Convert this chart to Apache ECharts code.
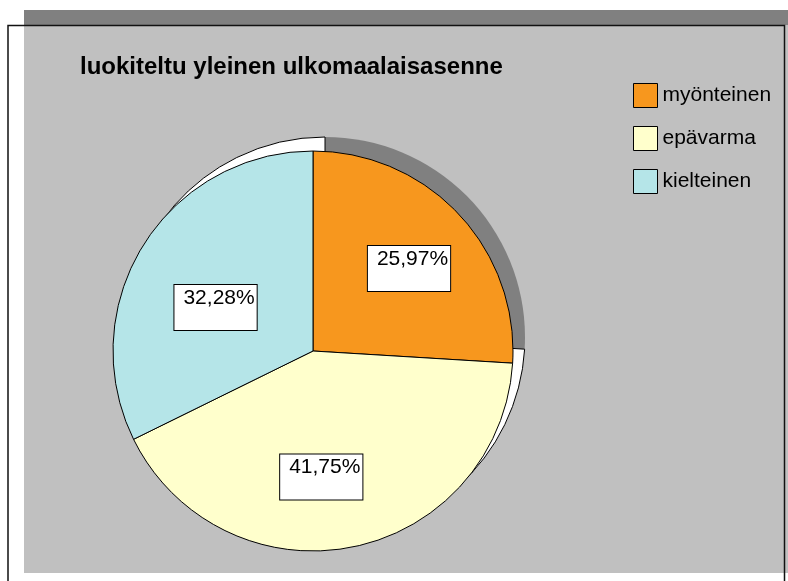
<!DOCTYPE html>
<html>
<head>
<meta charset="utf-8">
<script src="https://cdn.jsdelivr.net/npm/echarts@6/dist/echarts.min.js"></script>
<style>
  html, body { margin: 0; padding: 0; background: #fff; }
  #myChart { width: 788px; height: 581px; }
</style>
</head>
<body>
<div id="myChart"></div>
<script>
const chartTitle = "luokiteltu yleinen ulkomaalaisasenne";
const categories = ["myönteinen", "epävarma", "kielteinen"];
const shares = [25.97, 41.75, 32.28];
const sliceColors = ["#F7971E", "#FFFFCC", "#B5E5E8"];
const shadowColors = ["#808080", "#ffffff", "#ffffff"];
// small nudges from the default "inside" spot, per slice
const labelNudge = [[21, -12], [-12, 25], [-10, 11]];

const fmt = (v) => v.toFixed(2).replace(".", ",") + "%";

const graphElem = document.getElementById("myChart");
const myChart = echarts.init(graphElem, null, { width: 788, height: 581 });

const mainData = categories.map((name, i) => ({
    name: name,
    value: shares[i],
    itemStyle: { color: sliceColors[i] },
}));

const shadowData = categories.map((name, i) => ({
    name: name + " varjo",
    value: shares[i],
    itemStyle: {
        color: shadowColors[i],
        borderColor: i === 0 ? shadowColors[i] : "#000",
        borderWidth: i === 0 ? 0 : 1,
    },
}));

const options = {
    animation: false,
    textStyle: { fontFamily: "Liberation Sans" },
    graphic: [
        { type: "rect", z: 0, silent: true, shape: { x: 24, y: 10, width: 764, height: 15 }, style: { fill: "#808080" } },
        { type: "rect", z: 0, silent: true, shape: { x: 24, y: 25, width: 764, height: 548 }, style: { fill: "#c0c0c0" } },
        {
            type: "polyline", z: 1, silent: true,
            shape: { points: [[8, 581], [8, 25.5], [784.5, 25.5], [784.5, 581]] },
            style: { stroke: "#111", lineWidth: 1.5, fill: null },
        },
    ],
    title: {
        text: chartTitle,
        left: 75,
        top: 50,
        textStyle: { fontSize: 24, fontWeight: "bold", color: "#000", fontFamily: "Liberation Sans" },
    },
    legend: {
        data: categories,
        orient: "vertical",
        left: 628,
        top: 78,
        itemWidth: 24,
        itemHeight: 24,
        itemGap: 18,
        icon: "rect",
        selectedMode: false,
        textStyle: { fontSize: 21, color: "#000" },
        itemStyle: { borderColor: "#000", borderWidth: 1 },
    },
    series: [
        {
            type: "pie",
            z: 1,
            silent: true,
            center: [325, 337],
            radius: 200,
            startAngle: 90,
            clockwise: true,
            label: { show: false },
            labelLine: { show: false },
            emphasis: { disabled: true },
            data: shadowData,
        },
        {
            type: "pie",
            z: 2,
            center: [313, 351],
            radius: 200,
            startAngle: 90,
            clockwise: true,
            itemStyle: { borderColor: "#000", borderWidth: 1 },
            emphasis: { disabled: true },
            labelLine: { show: false },
            label: {
                show: true,
                position: "inside",
                formatter: (p) => fmt(p.value) + "\n\u00a0",
                fontSize: 21,
                lineHeight: 19,
                align: "left",
                color: "#000",
                fontFamily: "Liberation Sans",
                backgroundColor: "#fff",
                borderColor: "#000",
                borderWidth: 1,
                padding: [7, 2, 0, 9],
            },
            labelLayout: (params) => ({
                dx: labelNudge[params.dataIndex][0],
                dy: labelNudge[params.dataIndex][1],
            }),
            data: mainData,
        },
    ],
};

myChart.setOption(options);
</script>
</body>
</html>
